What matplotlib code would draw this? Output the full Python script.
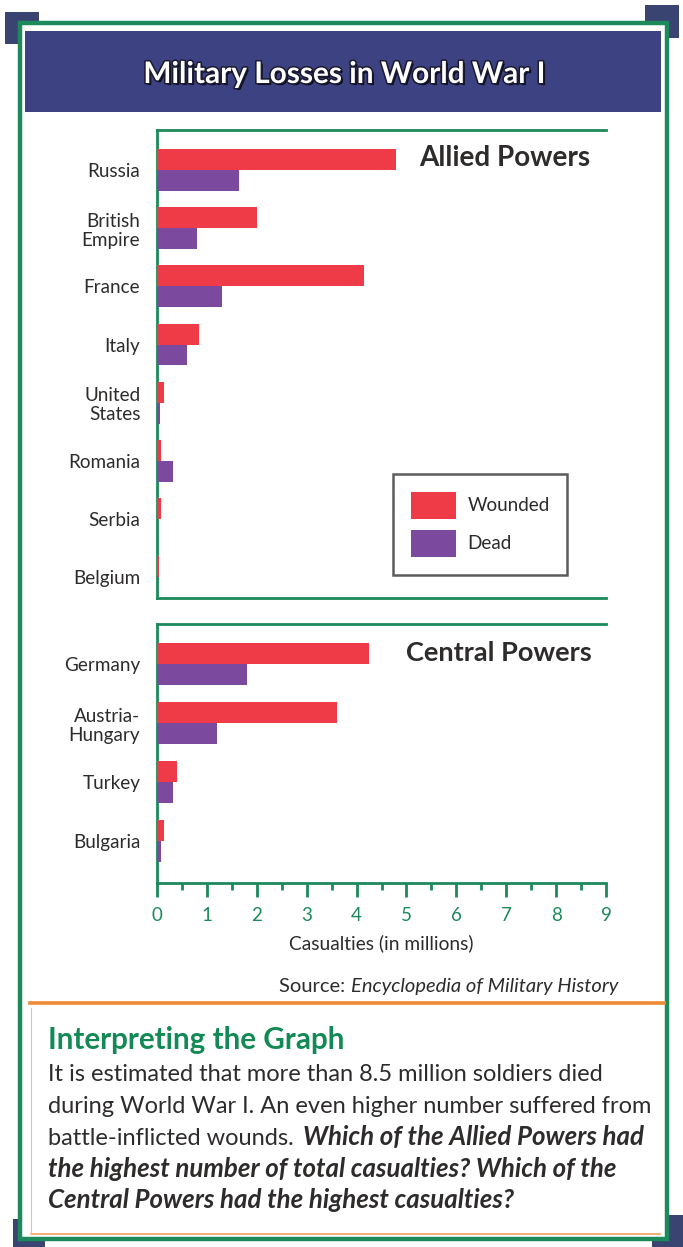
import matplotlib
matplotlib.use("Agg")
import matplotlib.pyplot as plt
import matplotlib.patheffects as pe
from matplotlib.patches import Rectangle, Patch
import numpy as np

# ---------------- data ----------------
allied_countries = ["Russia", "British\nEmpire", "France", "Italy",
                    "United\nStates", "Romania", "Serbia", "Belgium"]
allied_wounded = [4.8, 2.0, 4.15, 0.85, 0.14, 0.08, 0.08, 0.04]
allied_dead = [1.65, 0.8, 1.3, 0.6, 0.07, 0.33, 0.02, 0.02]

central_countries = ["Germany", "Austria-\nHungary", "Turkey", "Bulgaria"]
central_wounded = [4.25, 3.6, 0.4, 0.15]
central_dead = [1.8, 1.2, 0.33, 0.09]

x_ticks = [0, 1, 2, 3, 4, 5, 6, 7, 8, 9]

# ---------------- style ----------------
W, H = 683, 1247
GREEN = "#1d8a5c"
RED = "#ee3b47"
PURPLE = "#7b4a9f"
NAVY = "#3d4283"
DARK = "#2e2b2b"
FONT = "Lato"

fig = plt.figure(figsize=(W / 100, H / 100), dpi=100)
fig.patch.set_facecolor("white")
renderer = fig.canvas.get_renderer()

bg = fig.add_axes([0, 0, 1, 1])
bg.set_xlim(0, W)
bg.set_ylim(H, 0)
bg.axis("off")
bg.set_zorder(0)


def px_width(t):
    return t.get_window_extent(renderer).width


def fit(t, width):
    """scale a text's font size so that it spans `width` pixels"""
    t.set_fontsize(t.get_fontsize() * width / px_width(t))
    return t


def fitted_size(txt, width, **kw):
    probe = bg.text(0, 0, txt, fontsize=16, family=FONT, **kw)
    s = 16 * width / px_width(probe)
    probe.remove()
    return s


# corner squares
for (x0, y0, w, h) in [(5, 12, 34, 32), (645, 5, 34, 33), (13, 1219, 32, 28), (652, 1215, 31, 32)]:
    bg.add_patch(Rectangle((x0, y0), w, h, facecolor="#3a4470", edgecolor="none", zorder=1))
# green frame
bg.add_patch(Rectangle((20, 23), 647, 1216, facecolor="white", edgecolor=GREEN, lw=3.2, zorder=2))
# thin orange inner line in lower box
bg.plot([31, 660], [1234, 1234], color="#f0a060", lw=1.2, zorder=3)
bg.plot([31, 31], [1008, 1234], color="#f0c080", lw=0.8, zorder=3)
# title banner
bg.add_patch(Rectangle((25, 31), 636, 81, facecolor=NAVY, edgecolor="none", zorder=3))
title = bg.text(344, 74, "Military Losses in World War I", color="white", fontsize=20,
                fontweight="bold", family=FONT, ha="center", va="center", zorder=4,
                path_effects=[pe.withSimplePatchShadow(offset=(1.5, -1.5), shadow_rgbFace="#0d0d20", alpha=1.0),
                              pe.withStroke(linewidth=2.2, foreground="#1a1a30")])
fit(title, 402)
# orange separator
bg.plot([30, 664], [1003, 1003], color="#f08a35", lw=2.6, zorder=3)

# ---------------- axes ----------------
x_left, x_right = 157, 606
LBL = 13.6


def make_axes(top, bottom):
    return fig.add_axes([x_left / W, 1 - bottom / H, (x_right - x_left) / W, (bottom - top) / H])


def draw_panel(ax, countries, wounded, dead, ylim):
    y = np.arange(len(countries))
    h = 0.36
    ax.barh(y - h / 2, wounded, height=h, color=RED, zorder=3)
    ax.barh(y + h / 2, dead, height=h, color=PURPLE, zorder=3)
    ax.set_xlim(0, 9)
    ax.set_ylim(*ylim)
    ax.set_yticks(y)
    ax.set_yticklabels(countries, fontsize=LBL, family=FONT, color=DARK,
                       linespacing=1.15, ha="right", multialignment="right")
    ax.tick_params(axis="y", length=0, pad=12)
    ax.set_facecolor("none")
    ax.spines["right"].set_visible(False)
    for s in ["left", "top", "bottom"]:
        ax.spines[s].set_color(GREEN)
        ax.spines[s].set_linewidth(2.0)


ax1 = make_axes(130, 598)
draw_panel(ax1, allied_countries, allied_wounded, allied_dead, (7.36, -0.69))
ax1.set_xticks([])

ax2 = make_axes(624, 883)
draw_panel(ax2, central_countries, central_wounded, central_dead, (3.71, -0.68))
ax2.set_xticks(x_ticks)
ax2.set_xticks(np.arange(0.5, 9, 1.0), minor=True)
ax2.set_xticklabels([str(t) for t in x_ticks], fontsize=13.5, family=FONT, color=GREEN)
ax2.tick_params(axis="x", which="major", length=10, width=2.0, color=GREEN, pad=7, direction="out")
ax2.tick_params(axis="x", which="minor", length=5, width=2.0, color=GREEN, direction="out")
ax2.set_xlabel("Casualties (in millions)", fontsize=13.8, family=FONT, color=DARK, labelpad=8)

# panel titles
t1 = bg.text(419, 158, "Allied Powers", fontsize=20, fontweight="bold", family=FONT,
             color=DARK, ha="left", va="center", zorder=5)
fit(t1, 171)
t2 = bg.text(406, 653, "Central Powers", fontsize=20, fontweight="bold", family=FONT,
             color=DARK, ha="left", va="center", zorder=5)
fit(t2, 186)

# legend
leg = ax1.legend(handles=[Patch(facecolor=RED, label="Wounded"),
                          Patch(facecolor=PURPLE, label="Dead")],
                 loc="upper left", bbox_to_anchor=(393 / W, 1 - 474 / H, 174 / W, 0.0),
                 bbox_transform=fig.transFigure, mode="expand", borderaxespad=0,
                 fancybox=False, frameon=True, edgecolor="#333333",
                 prop={"family": FONT, "size": 13.6}, handlelength=2.4, handleheight=1.8,
                 labelspacing=0.6, borderpad=0.95, handletextpad=0.6)
leg.get_frame().set_linewidth(1.8)
for t in leg.get_texts():
    t.set_color(DARK)

# source
SRC = 14.5
src_it = bg.text(618, 992, "Encyclopedia of Military History", fontsize=SRC, style="italic",
                 family=FONT, color=DARK, ha="right", va="baseline", zorder=5)
bb = src_it.get_window_extent(renderer)
x_it_left = bg.transData.inverted().transform((bb.x0, bb.y0))[0]
bg.text(x_it_left, 992, "Source: ", fontsize=SRC, family=FONT, color=DARK,
        ha="right", va="baseline", zorder=5)

# interpreting box
hd = bg.text(48, 1049, "Interpreting the Graph", fontsize=20, fontweight="bold", family=FONT,
             color="#138a55", ha="left", va="baseline", zorder=5)
fit(hd, 297)

body_lines = [
    [("It is estimated that more than 8.5 million soldiers died", False)],
    [("during World War I. An even higher number suffered from", False)],
    [("battle-inflicted wounds. ", False), ("Which of the Allied Powers had", True)],
    [("the highest number of total casualties? Which of the", True)],
    [("Central Powers had the highest casualties?", True)],
]
reg_a = fitted_size(body_lines[0][0][0], 582)
reg_b = fitted_size(body_lines[1][0][0], 584)
BODY_R = (reg_a + reg_b) / 2
BODY_B = fitted_size(body_lines[3][0][0], 569, fontweight="bold", style="italic")

baselines = [1081, 1113, 1145, 1177, 1208]
for parts, yb in zip(body_lines, baselines):
    x = 48
    for txt, emph in parts:
        t = bg.text(x, yb, txt, fontsize=BODY_B if emph else BODY_R, family=FONT, color=DARK,
                    fontweight="bold" if emph else "normal",
                    style="italic" if emph else "normal",
                    ha="left", va="baseline", zorder=5)
        b = t.get_window_extent(renderer)
        x = bg.transData.inverted().transform((b.x1, b.y0))[0]
        if txt.endswith(" "):
            x += 3

fig.savefig("out.png", dpi=100)
